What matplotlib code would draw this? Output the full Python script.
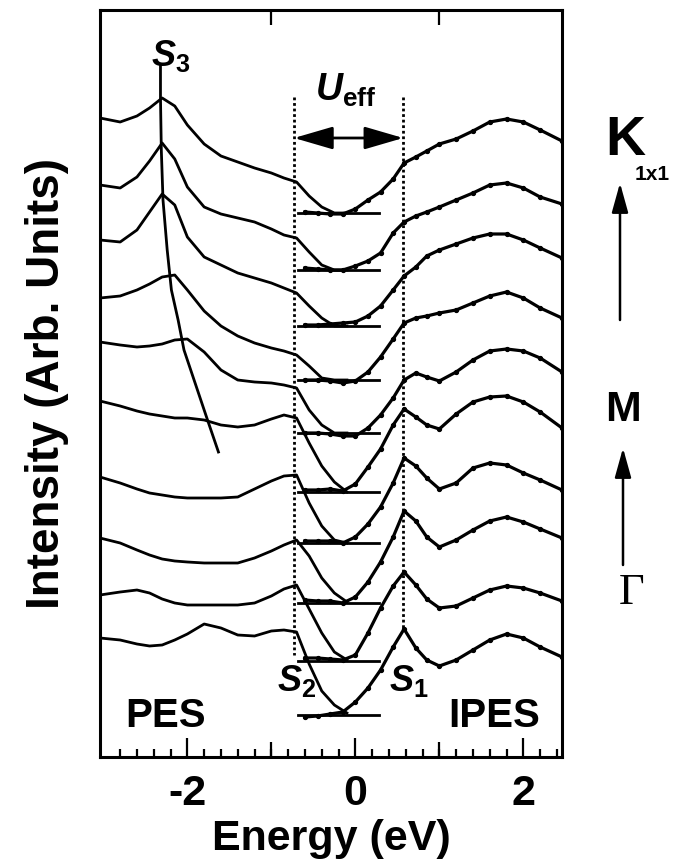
import matplotlib
matplotlib.use("Agg")
import matplotlib.pyplot as plt
import numpy as np

plt.rcParams['font.family'] = ['Liberation Sans', 'DejaVu Sans']
plt.rcParams['font.weight'] = 'bold'
plt.rcParams['axes.labelweight'] = 'bold'
plt.rcParams['mathtext.fontset'] = 'custom'
plt.rcParams['mathtext.it'] = 'Liberation Sans:italic:bold'
plt.rcParams['mathtext.rm'] = 'Liberation Sans:bold'
plt.rcParams['mathtext.bf'] = 'Liberation Sans:bold'

# PES energies (eV) and intensities relative to each spectrum's baseline
pes_energy = [-3.04, -2.8, -2.6, -2.45, -2.3, -2.15, -2.0, -1.8, -1.6, -1.4,
              -1.2, -1.0, -0.85, -0.7, -0.55, -0.4, -0.25, -0.1]
# spectra ordered from Gamma (bottom) to K (top)
pes_0 = [7.7, 7.5, 7.1, 6.9, 7.0, 7.5, 8.1, 9.1, 8.7, 8.0, 7.9, 8.4, 8.5, 8.3, 5.1, 2.4, 1.0, 0.2]
pes_1 = [6.6, 6.9, 7.1, 6.8, 6.2, 5.8, 5.6, 5.6, 5.6, 5.6, 5.8, 6.5, 7.2, 7.6, 5.2, 2.8, 0.9, 0.1]
pes_2 = [6.5, 6.0, 5.3, 4.8, 4.4, 4.2, 4.1, 4.0, 4.0, 4.0, 4.5, 5.2, 5.8, 6.3, 4.7, 2.5, 1.0, 0.1]
pes_3 = [6.6, 6.0, 5.4, 5.0, 4.8, 4.6, 4.5, 4.5, 4.5, 4.6, 5.4, 6.2, 6.7, 6.8, 4.0, 1.7, 0.3, 0.0]
pes_4 = [9.1, 8.6, 8.1, 7.8, 7.6, 7.4, 7.4, 7.2, 6.7, 6.5, 6.7, 7.3, 7.7, 7.4, 4.9, 2.6, 1.0, 0.0]
pes_5 = [9.1, 8.8, 8.6, 8.7, 8.9, 9.3, 9.4, 8.1, 6.3, 5.3, 5.1, 5.0, 4.8, 4.5, 2.3, 0.8, 0.0, 0.0]
pes_6 = [8.2, 8.4, 9.0, 9.6, 10.3, 10.5, 9.0, 6.9, 5.4, 4.4, 3.7, 3.2, 2.9, 2.5, 1.4, 0.2, 0.0, 0.0]
pes_7 = [8.6, 8.4, 9.6, 11.4, 13.2, 12.1, 8.9, 6.9, 6.1, 5.3, 4.8, 4.3, 3.8, 3.3, 2.0, 0.8, 0.0, 0.0]
pes_8 = [8.5, 8.2, 9.3, 10.9, 12.7, 11.1, 8.3, 6.3, 5.6, 5.2, 4.8, 4.1, 3.5, 3.2, 1.8, 0.5, 0.0, 0.0]
pes_9 = [9.5, 9.1, 9.7, 10.5, 11.5, 10.7, 8.8, 6.9, 5.7, 5.1, 4.5, 4.0, 3.5, 3.1, 1.7, 0.6, 0.0, 0.0]

# IPES energies (eV) and intensities
ipes_energy = [-0.6, -0.45, -0.3, -0.15, 0.0, 0.15, 0.3, 0.45, 0.58, 0.72,
               0.85, 1.0, 1.2, 1.4, 1.6, 1.8, 2.0, 2.2, 2.46]
ipes_0 = [-0.2, -0.1, 0.1, 0.3, 1.3, 2.7, 4.5, 6.8, 8.6, 6.7, 5.5, 4.9, 5.5, 6.5, 7.5, 8.1, 7.7, 6.8, 5.8]
ipes_1 = [0.3, 0.3, 0.2, 0.1, 0.6, 2.8, 5.3, 7.5, 8.9, 7.6, 6.2, 5.3, 5.5, 6.3, 7.1, 7.5, 7.3, 6.8, 6.0]
ipes_2 = [0.3, 0.2, 0.2, 0.0, 0.6, 2.1, 4.1, 6.6, 9.2, 8.2, 6.6, 5.6, 6.3, 7.3, 8.2, 8.6, 8.1, 7.4, 6.5]
ipes_3 = [0.2, 0.2, 0.2, 0.0, 0.6, 1.9, 3.6, 6.0, 8.5, 7.7, 6.5, 5.4, 6.0, 7.5, 8.0, 7.8, 7.0, 6.3, 5.3]
ipes_4 = [0.2, 0.2, 0.3, 0.1, 0.8, 2.5, 4.3, 6.7, 8.3, 7.5, 6.7, 6.3, 7.8, 9.0, 9.5, 9.6, 9.0, 8.0, 6.4]
ipes_5 = [0.0, 0.0, -0.1, -0.3, -0.3, 0.5, 1.8, 3.5, 5.3, 6.0, 5.6, 5.2, 6.1, 7.3, 8.2, 8.4, 8.2, 7.5, 6.1]
ipes_6 = [0.0, 0.0, -0.1, -0.3, -0.1, 0.8, 2.3, 4.1, 5.7, 6.2, 6.4, 6.7, 7.0, 7.7, 8.4, 8.8, 8.2, 7.2, 6.2]
ipes_7 = [0.1, 0.1, 0.2, 0.3, 0.4, 1.0, 2.0, 3.6, 5.0, 5.9, 7.0, 7.6, 8.2, 8.8, 9.2, 9.2, 8.6, 7.8, 6.8]
ipes_8 = [0.2, 0.1, 0.0, 0.0, 0.4, 0.9, 1.7, 3.7, 4.8, 5.4, 5.8, 6.3, 7.0, 7.7, 8.5, 8.7, 8.2, 7.3, 6.6]
ipes_9 = [0.1, 0.0, -0.1, -0.1, 0.4, 1.3, 2.1, 3.4, 5.0, 5.6, 6.2, 6.9, 7.4, 8.2, 9.1, 9.4, 9.1, 8.3, 7.2]

# vertical offset of each spectrum (arb. units)
offsets = [4.2, 9.6, 15.4, 21.4, 26.5, 32.4, 37.7, 43.1, 48.7, 54.4]
baseline_span = [-0.68, 0.28]

# dispersion of the S3 peak
s3_energy = [-2.32, -2.32, -2.31, -2.29, -2.24, -2.19, -2.11, -2.04, -1.90, -1.76, -1.63]
s3_level = [69.2, 65.9, 60.7, 55.7, 50.7, 46.7, 43.7, 40.7, 37.2, 33.7, 30.5]

# U_eff markers
ueff_left, ueff_right = -0.73, 0.57

pes_all = [pes_0, pes_1, pes_2, pes_3, pes_4, pes_5, pes_6, pes_7, pes_8, pes_9]
ipes_all = [ipes_0, ipes_1, ipes_2, ipes_3, ipes_4, ipes_5, ipes_6, ipes_7, ipes_8, ipes_9]

fig = plt.figure(figsize=(6.75, 8.63), dpi=100)
ax = fig.add_axes([100 / 675, 1 - 757 / 863, 462 / 675, 747 / 863])

for pes, ipes, off in zip(pes_all, ipes_all, offsets):
    ax.plot(pes_energy, np.array(pes) + off, color='k', lw=2.0)
    ax.plot(ipes_energy, np.array(ipes) + off, color='k', lw=2.3,
            marker='o', ms=2.8)
    ax.plot(baseline_span, [off, off], color='k', lw=2.0)

ax.plot(s3_energy, s3_level, color='k', lw=2.0)

# dashed markers and the U_eff arrow
ax.plot([ueff_left, ueff_left], [66.0, 10.2], color='k', lw=2.0,
        linestyle=(0, (1.0, 1.0)))
ax.plot([ueff_right, ueff_right], [66.0, 12.9], color='k', lw=2.0,
        linestyle=(0, (1.0, 1.0)))
ax.annotate('', xy=(ueff_right, 61.9), xytext=(ueff_left, 61.9),
            arrowprops=dict(arrowstyle='<|-|>,head_length=1.2,head_width=0.35',
                            mutation_scale=20, color='k', lw=2.0,
                            shrinkA=0, shrinkB=0))

ax.text(-2.2, 70.1, r'$S_3$', fontsize=26, ha='center', va='center')
ax.text(-0.12, 66.7, r'$U_{\mathrm{eff}}$', fontsize=27, ha='center', va='center')
ax.text(-0.70, 7.6, r'$S_2$', fontsize=26, ha='center', va='center')
ax.text(0.63, 7.6, r'$S_1$', fontsize=26, ha='center', va='center')
ax.text(-2.26, 4.1, 'PES', fontsize=29, ha='center', va='center')
ax.text(1.65, 4.1, 'IPES', fontsize=29, ha='center', va='center')

ax.set_xlim(-3.04, 2.46)
ax.set_ylim(0, 74.7)
ax.set_yticks([])
ax.set_xticks([-2, 0, 2])
ax.set_xticklabels(['-2', '0', '2'])
ax.set_xticks([round(v, 1) for v in np.arange(-2.8, 2.41, 0.2)], minor=True)
ax.tick_params(axis='x', which='major', direction='in', top=True, bottom=True,
               length=14, width=1.6, labelsize=31, pad=12)
ax.tick_params(axis='x', which='minor', direction='in', top=True, bottom=True,
               length=5.5, width=1.6)
for s in ax.spines.values():
    s.set_linewidth(2.2)

# medium ticks at odd integers
ax2 = ax.twiny()
ax2.set_xlim(ax.get_xlim())
ax2.set_xticks([-1, 1])
ax2.tick_params(axis='x', direction='in', top=True, bottom=True, length=10.5,
                width=1.6, labeltop=False, labelbottom=False)
for s in ax2.spines.values():
    s.set_visible(False)

ax.set_xlabel('Energy (eV)', fontsize=31, fontweight='bold', labelpad=4)
ax.set_ylabel('Intensity (Arb. Units)', fontsize=33, fontweight='bold', labelpad=22)

# k-path labels on the right
fig.text(625 / 675, 1 - 141 / 863, 'K', fontsize=40, ha='center', va='center')
fig.text(652 / 675, 1 - 175 / 863, '1x1', fontsize=15, ha='center', va='center')
fig.text(623 / 675, 1 - 410 / 863, 'M', fontsize=31, ha='center', va='center')
fig.text(632 / 675, 1 - 593 / 863, '\u0393', fontsize=32, ha='center', va='center',
         family=['Liberation Serif', 'DejaVu Serif'], weight='normal')
for x0, y_tail, y_tip in [(620, 320, 183), (623, 565, 448)]:
    ax.annotate('', xy=(x0 / 675, 1 - y_tip / 863), xycoords='figure fraction',
                xytext=(x0 / 675, 1 - y_tail / 863), textcoords='figure fraction',
                arrowprops=dict(arrowstyle='-|>,head_length=0.9,head_width=0.25',
                                mutation_scale=20, color='k', lw=1.8,
                                shrinkA=0, shrinkB=0),
                annotation_clip=False)

fig.savefig('out.png', dpi=100)
